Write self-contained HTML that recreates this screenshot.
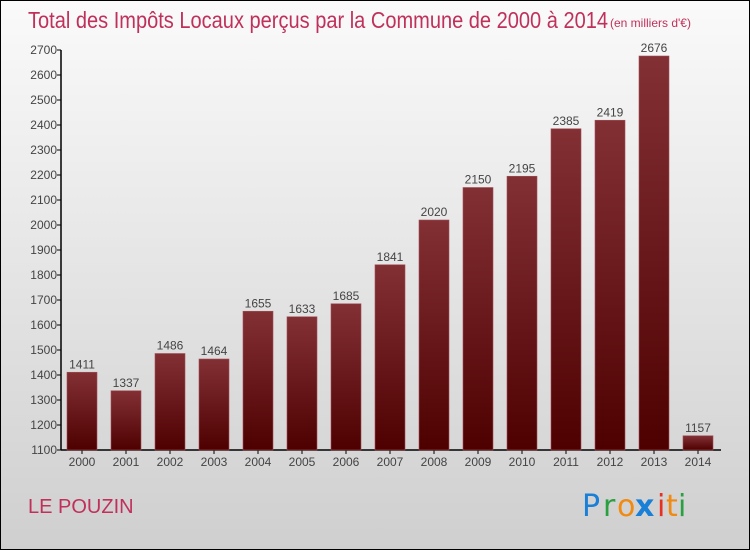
<!DOCTYPE html>
<html><head><meta charset="utf-8">
<style>
html,body{margin:0;padding:0}
body{width:750px;height:550px;overflow:hidden;font-family:"Liberation Sans",sans-serif}
#frame{position:absolute;left:0;top:0;width:748px;height:548px;border:1px solid #000;background:linear-gradient(#fafafa,#cfcfcf)}
</style></head><body>
<div id="frame"></div>
<svg id="chart" width="750" height="550" style="position:absolute;left:0;top:0">
<defs><linearGradient id="bg" x1="0" y1="0" x2="0" y2="1"><stop offset="0" stop-color="#833035"/><stop offset="1" stop-color="#4e0000"/></linearGradient></defs>
<text x="28" y="28" font-size="23" fill="#c0305a" textLength="580" lengthAdjust="spacingAndGlyphs">Total des Impôts Locaux perçus par la Commune de 2000 à 2014</text>
<text x="610" y="27" font-size="12" fill="#c0305a">(en milliers d'€)</text>
<text x="28" y="513" font-size="20" fill="#c0305a">LE POUZIN</text>
<g font-size="30" font-family="'DejaVu Sans',sans-serif">
<text x="582" y="516" fill="#1a7fd6">P</text><text x="603" y="516" fill="#2aa040">r</text><text x="617" y="516" fill="#f08a10">o</text><text x="635" y="516" fill="#1a7fd6" font-weight="bold">x</text><text x="657" y="516" fill="#e83020">i</text><text x="666" y="516" fill="#f08a10">t</text><text x="678" y="516" fill="#2aa040">i</text>
</g>
<g id="axes"></g><g id="bars"></g>
</svg>
<script>
const years=["2000","2001","2002","2003","2004","2005","2006","2007","2008","2009","2010","2011","2012","2013","2014"];
const values=[1411,1337,1486,1464,1655,1633,1685,1841,2020,2150,2195,2385,2419,2676,1157];
const yTicks=[1100,1200,1300,1400,1500,1600,1700,1800,1900,2000,2100,2200,2300,2400,2500,2600,2700];
const NS="http://www.w3.org/2000/svg";
const yMin=1100,yMax=2700,plotTop=50,plotBot=450;
function y(v){return plotBot-(v-yMin)/(yMax-yMin)*(plotBot-plotTop);}
function x(i){return 82+i*44;}
function mk(t,a,p){const e=document.createElementNS(NS,t);for(const k in a)e.setAttribute(k,a[k]);p.appendChild(e);return e;}
const ax=document.getElementById('axes'),bs=document.getElementById('bars');
const yl=mk('line',{x1:61,y1:plotTop,x2:61,y2:plotBot,stroke:'#000','stroke-width':1.5},ax);


const xl=mk('line',{x1:61,y1:plotBot,x2:721,y2:plotBot,stroke:'#000','stroke-width':1.5},ax);


yTicks.forEach(v=>{
 mk('line',{x1:57,y1:y(v),x2:61,y2:y(v),stroke:'#000'},ax);
 const t=mk('text',{x:57,y:y(v)+4,'font-size':12,fill:'#444','text-anchor':'end'},ax);t.textContent=v;
 
 
});
years.forEach((yr,i)=>{
 const v=values[i];
 const r=mk('rect',{x:x(i)-15,y:y(v),width:30,height:plotBot-y(v),fill:'url(#bg)',stroke:'#a05058','stroke-width':0.6},bs);
 
 
 mk('line',{x1:x(i),y1:plotBot,x2:x(i),y2:plotBot+4,stroke:'#000'},ax);
 const t=mk('text',{x:x(i),y:plotBot+16,'font-size':12,fill:'#444','text-anchor':'middle'},ax);t.textContent=yr;
 
 
 const l=mk('text',{x:x(i),y:y(v)-4,'font-size':12,fill:'#444','text-anchor':'middle'},bs);l.textContent=v;
 
 
});
</script>
</body></html>
